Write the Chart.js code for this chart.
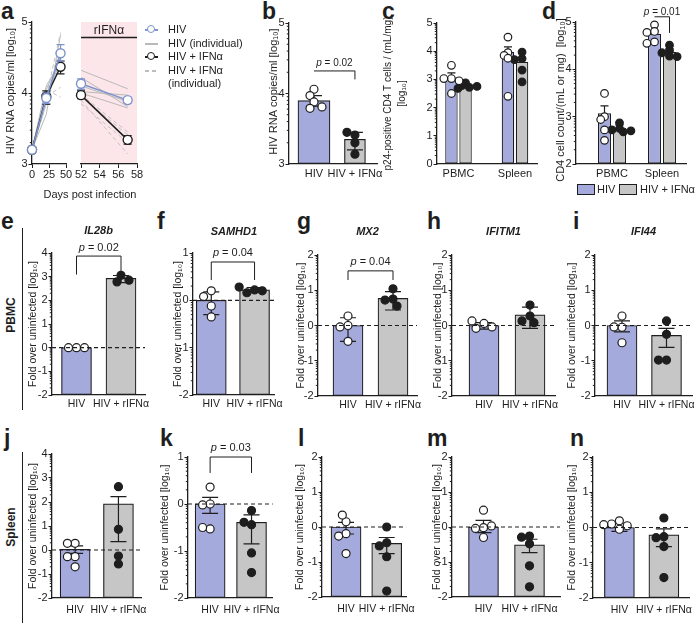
<!DOCTYPE html>
<html>
<head>
<meta charset="utf-8">
<title>rIFNα in HIV-infected mice</title>
<script src="https://cdn.jsdelivr.net/npm/chart.js@4.4.1/dist/chart.umd.min.js"></script>
<style>
  html, body { margin: 0; padding: 0; background: #fff; }
  #fig { position: relative; width: 696px; height: 626px; overflow: hidden;
         font-family: 'Liberation Sans', Arial, sans-serif; color: #1e1e1e; }
  #fig canvas { position: absolute; }
  .tag { position: absolute; font-size: 23px; font-weight: bold; line-height: 23px; }
  .row { position: absolute; font-size: 12px; font-weight: bold; white-space: nowrap;
         transform: translate(-50%, -50%) rotate(-90deg); }
  .rule { position: absolute; left: 22px; width: 1.3px; background: #1e1e1e; }
  .txt { position: absolute; font-size: 11px; line-height: 13px; white-space: nowrap; color: #1e1e1e;
         -webkit-font-smoothing: antialiased; will-change: transform; }
  .sym { position: absolute; left: 145px; width: 13px; height: 13px; }
  .sym .ln { position: absolute; left: 0; right: 0; top: 6px; height: 1.5px; }
  .sym .dot { position: absolute; left: 2px; top: 2px; width: 6.4px; height: 6.4px;
              border: 1.3px solid; border-radius: 50%; background: #fff; }
  .box { position: absolute; top: 184px; width: 16px; height: 9px; border: 1.2px solid #1e1e1e; }
</style>
</head>
<body>
<div id="fig">
  <div class="tag" style="left:1px;top:0px">a</div>
  <div class="tag" style="left:262px;top:0px">b</div>
  <div class="tag" style="left:382px;top:0px">c</div>
  <div class="tag" style="left:542px;top:0px">d</div>
  <div class="tag" style="left:1px;top:210px">e</div>
  <div class="tag" style="left:157px;top:210px">f</div>
  <div class="tag" style="left:297px;top:210px">g</div>
  <div class="tag" style="left:427px;top:210px">h</div>
  <div class="tag" style="left:573px;top:210px">i</div>
  <div class="tag" style="left:4px;top:427px">j</div>
  <div class="tag" style="left:160px;top:427px">k</div>
  <div class="tag" style="left:298px;top:427px">l</div>
  <div class="tag" style="left:427px;top:427px">m</div>
  <div class="tag" style="left:570px;top:427px">n</div>

  <div class="row" style="left:11px;top:315px">PBMC</div>
  <div class="row" style="left:11px;top:527px">Spleen</div>
  <div class="rule" style="top:228px;height:182px"></div>
  <div class="rule" style="top:452px;height:171px"></div>

  <!-- legend of panel a -->
  <div class="sym" style="top:23px"><i class="ln" style="background:#7d93cc"></i><i class="dot" style="border-color:#7d93cc"></i></div>
  <div class="txt" style="left:168px;top:23px">HIV</div>
  <div class="sym" style="top:37px"><i class="ln" style="background:#b9b9b9"></i></div>
  <div class="txt" style="left:168px;top:37px">HIV (individual)</div>
  <div class="sym" style="top:50px"><i class="ln" style="background:#1e1e1e"></i><i class="dot" style="border-color:#1e1e1e"></i></div>
  <div class="txt" style="left:168px;top:50px">HIV + IFNα</div>
  <div class="sym" style="top:64px"><i class="ln" style="background:repeating-linear-gradient(90deg,#bdbdbd 0 4px,transparent 4px 7px)"></i></div>
  <div class="txt" style="left:168px;top:64px">HIV + IFNα</div>
  <div class="txt" style="left:168px;top:77px">(individual)</div>
  <div class="txt" style="left:90px;top:188px;transform:translateX(-50%)">Days post infection</div>

  <!-- legend of panel d -->
  <div class="box" style="left:577px;background:#a4aadc"></div>
  <div class="txt" style="left:597px;top:183px">HIV</div>
  <div class="box" style="left:619px;background:#c6c6c6"></div>
  <div class="txt" style="left:640px;top:183px">HIV + IFNα</div>
</div>

<script>
// ---- a: plasma viral load (log10 copies/ml) per day post infection
const days = [0, 21, 42, 52, 57];
const hivMean = [3.2, 3.93, 4.56, 4.13, 3.9];
const hivSem = [[3.2, 3.2], [3.85, 4.0], [4.45, 4.68], [4.05, 4.2], [3.86, 3.94]];
const ifnMean = [3.2, 3.95, 4.37, 3.97, 3.34];
const ifnSem = [[3.2, 3.2], [3.84, 4.03], [4.27, 4.45], [3.92, 4.03], [3.28, 3.4]];
const hivMice = [
  [3.2, 3.7, 4.82, 4.32, 4.06],
  [3.2, 3.85, 4.6, 4.22, 3.81],
  [3.2, 3.95, 4.45, 4.1, 3.88],
  [3.2, 4.05, 4.5, 4.02, 3.97],
  [3.2, 4.1, 4.45, 4.0, 3.79]
];
const ifnMice = [
  [3.2, 3.95, 4.08, 3.95, 3.41],
  [3.2, 4.05, 3.94, 3.9, 3.14],
  [3.2, 3.85, 4.6, 3.98, 3.45],
  [3.2, 3.95, 4.85, 3.85, 3.3]
];

// ---- b: viral load at end of treatment
const bLabels = ['HIV', 'HIV + IFNα'];
const bMean = [3.9, 3.35];
const bSd = [[3.82, 3.97], [3.2, 3.45]];
const bHivPts = [4.06, 3.97, 3.88, 3.79, 3.81];
const bIfnPts = [3.41, 3.45, 3.30, 3.14];

// ---- c, d: tissues
const tissues = ['PBMC', 'Spleen'];
const p24Hiv = [3.07, 3.97];
const p24HivTop = [3.23, 4.15];
const p24Ifn = [2.72, 3.62];
const p24IfnTop = [2.8, 3.73];
const p24HivPts = [[3.5, 3.03, 3.03, 2.95, 2.5], [4.5, 3.95, 3.85, 3.75, 2.4]];
const p24IfnPts = [[2.88, 2.78, 2.72, 2.68, 2.75], [3.97, 3.74, 3.7, 3.33, 2.91]];
const cd4Hiv = [3.07, 4.75];
const cd4HivTop = [3.23, 4.82];
const cd4Ifn = [2.75, 4.37];
const cd4IfnTop = [2.82, 4.44];
const cd4HivPts = [[3.49, 3.0, 2.94, 2.72, 2.5], [4.94, 4.8, 4.78, 4.58, 4.55]];
const cd4IfnPts = [[2.87, 2.75, 2.72, 2.68, 2.7], [4.51, 4.4, 4.35, 4.28, 4.27]];

// ---- e-n: ISG expression, fold over uninfected (log10)
const geneGroups = ['HIV', 'HIV + rIFNα'];
// PBMC
const il28bBar = [0, 2.93];
const il28bErr = [[0, 0], [2.75, 3.05]];
const il28bHiv = [0, 0, 0];
const il28bIfn = [3.06, 2.78, 2.85];
const samhd1Bar = [0, 0.22];
const samhd1Err = [[-0.3, 0.18], [0.17, 0.27]];
const samhd1Hiv = [0.2, 0.08, -0.12, -0.35];
const samhd1Ifn = [0.22, 0.16, 0.2, 0.28];
const mx2Bar = [0, 0.77];
const mx2Err = [[-0.45, 0.22], [0.44, 0.96]];
const mx2Hiv = [0.27, 0.0, -0.04, -0.45];
const mx2Ifn = [1.04, 0.75, 0.72, 0.55];
const ifitm1Bar = [0, 0.3];
const ifitm1Err = [[-0.1, 0.08], [-0.08, 0.52]];
const ifitm1Hiv = [0.06, -0.08, -0.04, 0.13];
const ifitm1Ifn = [0.58, 0.27, 0.13, 0.08];
const ifi44Bar = [0, -0.28];
const ifi44Err = [[-0.18, 0.13], [-0.62, -0.08]];
const ifi44Hiv = [0.27, -0.05, -0.04, -0.49];
const ifi44Ifn = [0.13, -0.25, -0.98, -0.98];
// Spleen
const il28bSpBar = [0.03, 1.92];
const il28bSpErr = [[-0.14, 0.17], [0.35, 2.22]];
const il28bSpHiv = [0.28, 0.28, -0.28, -0.28, -0.7];
const il28bSpIfn = [2.64, 0.86, -0.25, -0.58];
const samhd1SpBar = [0, -0.39];
const samhd1SpErr = [[-0.2, 0.14], [-0.85, -0.23]];
const samhd1SpHiv = [0.36, 0.0, -0.02, -0.53, -0.5];
const samhd1SpIfn = [-0.14, -0.44, -0.39, -1.04, -1.46];
const mx2SpBar = [0, -0.47];
const mx2SpErr = [[-0.2, 0.13], [-0.76, -0.3]];
const mx2SpHiv = [0.15, 0.34, -0.19, -0.26, -0.76];
const mx2SpIfn = [0.0, -0.45, -0.54, -0.85, -1.83];
const ifitm1SpBar = [0, -0.51];
const ifitm1SpErr = [[-0.16, 0.19], [-0.73, -0.35]];
const ifitm1SpHiv = [0.48, -0.02, -0.04, 0.03, -0.3];
const ifitm1SpIfn = [-0.26, -0.29, -0.48, -1.11, -1.71];
const ifi44SpBar = [0, -0.21];
const ifi44SpErr = [[-0.11, 0.12], [-0.54, -0.04]];
const ifi44SpHiv = [0.19, 0.1, 0.05, -0.05, 0.08];
const ifi44SpIfn = [0.27, -0.26, -0.29, -0.54, -1.42];

const FONT = "'Liberation Sans', Arial, sans-serif";
const INK = '#1e1e1e';
const BLUE = '#a4aadc';
const GREY = '#c6c6c6';
const LINE_BLUE = '#7d93cc';
const PINK = '#fce6ea';
const LOG10 = 'log₁₀';
const FOLD = 'Fold over uninfected [' + LOG10 + ']';

Chart.defaults.font.family = FONT;
Chart.defaults.font.size = 11;
Chart.defaults.color = INK;
Chart.defaults.animation = false;
Chart.defaults.events = [];
Chart.defaults.plugins.legend.display = false;
Chart.defaults.plugins.tooltip.enabled = false;

const fig = document.getElementById('fig');

function drawErr(chart, meta, ds) {
  const ctx = chart.ctx, ys = chart.scales.y;
  ctx.save();
  ctx.strokeStyle = ds.errColor || INK;
  ctx.lineWidth = 1.2;
  meta.data.forEach((el, i) => {
    const lo = ds.errLo[i], hi = ds.errHi[i];
    if (lo === hi) return;
    const x = el.x, w = ds.cap || 6;
    const yl = ys.getPixelForValue(lo), yh = ys.getPixelForValue(hi);
    ctx.beginPath();
    ctx.moveTo(x, yl); ctx.lineTo(x, yh);
    ctx.moveTo(x - w, yh); ctx.lineTo(x + w, yh);
    if (ds.lowCap !== false) { ctx.moveTo(x - w, yl); ctx.lineTo(x + w, yl); }
    ctx.stroke();
  });
  ctx.restore();
}

// error bars, minor log ticks, dashed baseline, p-value brackets, gene names, y titles
const extras = {
  id: 'extras',
  beforeDraw(chart, args, o) {
    if (!o.shade) return;
    const a = chart.chartArea, ctx = chart.ctx;
    ctx.save();
    ctx.fillStyle = o.shade;
    ctx.fillRect(a.left, a.top, a.right - a.left, a.bottom - a.top);
    ctx.restore();
  },
  beforeDatasetDraw(chart, args) {
    const ds = chart.data.datasets[args.index];
    if (ds.errHi && ds.errBehind) drawErr(chart, args.meta, ds);
  },
  afterDatasetDraw(chart, args) {
    const ds = chart.data.datasets[args.index];
    if (ds.errHi && !ds.errBehind) drawErr(chart, args.meta, ds);
  },
  afterDatasetsDraw(chart, args, o) {
    const ctx = chart.ctx, a = chart.chartArea, ys = chart.scales.y;
    ctx.save();
    ctx.strokeStyle = INK;
    ctx.fillStyle = INK;
    ctx.lineWidth = 1;
    if (o.zero) {
      const y0 = ys.getPixelForValue(0);
      ctx.setLineDash([4, 3]);
      ctx.lineWidth = 1.1;
      ctx.beginPath(); ctx.moveTo(a.left, y0); ctx.lineTo(a.right, y0); ctx.stroke();
      ctx.setLineDash([]);
      ctx.lineWidth = 1;
    }
    if (o.minor) {
      for (let n = Math.floor(ys.min); n < ys.max; n++) {
        for (let k = 2; k <= 9; k++) {
          const py = ys.getPixelForValue(n + Math.log10(k));
          ctx.beginPath(); ctx.moveTo(a.left - 2.2, py); ctx.lineTo(a.left, py); ctx.stroke();
        }
      }
    }
    if (o.band) {
      const yb = ys.getPixelForValue(o.band.y);
      ctx.lineWidth = 1.5;
      ctx.beginPath(); ctx.moveTo(a.left, yb); ctx.lineTo(a.right, yb); ctx.stroke();
      ctx.font = '12px ' + FONT;
      ctx.textAlign = 'center';
      ctx.textBaseline = 'middle';
      ctx.fillText(o.band.text, (a.left + a.right) / 2, yb - o.band.gap);
      ctx.lineWidth = 1;
    }
    if (o.bracket) {
      const b = o.bracket;
      const from = b.from || [0, 0], to = b.to || [0, 1];
      const x0 = chart.getDatasetMeta(from[0]).data[from[1]].x;
      const x1 = chart.getDatasetMeta(to[0]).data[to[1]].x;
      const yy = ys.getPixelForValue(b.y);
      ctx.beginPath();
      if (b.legs[0] !== null) { ctx.moveTo(x0, ys.getPixelForValue(b.legs[0])); ctx.lineTo(x0, yy); }
      else ctx.moveTo(x0, yy);
      ctx.lineTo(x1, yy);
      if (b.legs[1] !== null) ctx.lineTo(x1, ys.getPixelForValue(b.legs[1]));
      ctx.stroke();
      const size = b.size || 11;
      ctx.font = 'italic ' + size + 'px ' + FONT;
      const wp = ctx.measureText('p').width;
      const rest = ' = ' + b.p;
      ctx.font = size + 'px ' + FONT;
      const wr = ctx.measureText(rest).width;
      const tx = (x0 + x1) / 2 - (wp + wr) / 2, ty = yy - b.gap;
      ctx.textAlign = 'left';
      ctx.textBaseline = 'middle';
      ctx.font = 'italic ' + size + 'px ' + FONT;
      ctx.fillText('p', tx, ty);
      ctx.font = size + 'px ' + FONT;
      ctx.fillText(rest, tx + wp, ty);
    }
    if (o.title) {
      ctx.font = 'italic bold 11px ' + FONT;
      ctx.textAlign = 'center';
      ctx.textBaseline = 'middle';
      ctx.fillText(o.title, (a.left + a.right) / 2, a.top - o.titleGap);
    }
    ctx.restore();
  },
  afterDraw(chart, args, o) {
    if (!o.ytitle) return;
    const t = o.ytitle, a = chart.chartArea, ctx = chart.ctx;
    const lines = Array.isArray(t.text) ? t.text : [t.text];
    ctx.save();
    ctx.font = (t.size || 11) + 'px ' + FONT;
    ctx.fillStyle = INK;
    ctx.textAlign = 'center';
    ctx.textBaseline = 'middle';
    ctx.translate(a.left - t.dx, (a.top + a.bottom) / 2 + (t.dy || 0));
    ctx.rotate(-Math.PI / 2);
    lines.forEach((s, i) => ctx.fillText(s, 0, i * (t.lh || 14)));
    ctx.restore();
  }
};

// place a canvas so that the plot area lands on l,t,r,b of the page
function makeChart(g, config) {
  const yW = g.yW !== undefined ? g.yW : g.l - g.tx + 7;
  const xH = g.xH || 22;
  const pl = g.pl || 2, pt = g.pt || 10, pr = g.pr || 10, pb = g.pb || 2;
  const left = Math.floor(g.l - yW - pl), top = Math.floor(g.t - pt);
  const width = Math.ceil(g.r + pr - left), height = Math.ceil(g.b + xH + pb - top);
  const canvas = document.createElement('canvas');
  canvas.width = width;
  canvas.height = height;
  canvas.style.left = left + 'px';
  canvas.style.top = top + 'px';
  fig.appendChild(canvas);
  const o = config.options;
  o.responsive = false;
  o.layout = { padding: { left: g.l - yW - left, top: g.t - top, right: left + width - g.r, bottom: top + height - g.b - xH } };
  o.scales.x.afterFit = s => { s.height = xH; };
  o.scales.y.afterFit = s => { s.width = yW; };
  const ex = o.plugins.extras;
  if (ex.ytitle) ex.ytitle.dx = g.l - g.tx;
  config.plugins = [extras];
  return new Chart(canvas, config);
}

function swarm(vals, unit, r, minDist) {
  const placed = [];
  return vals.map(v => {
    const y = v * unit;
    for (const k of [0, -1, 1, -2, 2, -3, 3, -4, 4]) {
      const x = k * r;
      if (placed.every(q => Math.hypot(q.x - x, q.y - y) >= minDist)) {
        placed.push({ x, y });
        return x;
      }
    }
    placed.push({ x: 0, y });
    return 0;
  });
}

function dots(vals, x, g, r, filled, minDist) {
  const slot = g.c1 - g.c0;
  const unit = (g.b - g.t) / (g.max - g.min);
  const offs = swarm(vals, unit, r, minDist || 2 * r - 0.5);
  return {
    type: 'scatter',
    data: vals.map((v, i) => ({ x: x + offs[i] / slot, y: v })),
    pointRadius: r, pointBorderWidth: 1.2, pointBorderColor: INK,
    pointBackgroundColor: filled ? INK : '#fff', order: 0, clip: false
  };
}

function xAxis(g, labels, pad, size) {
  const slot = g.c1 - g.c0;
  return {
    type: 'linear', offset: false,
    min: -(g.c0 - g.l) / slot, max: 1 + (g.r - g.c1) / slot,
    afterBuildTicks: s => { s.ticks = labels.map((_, i) => ({ value: i })); },
    ticks: { callback: (v, i) => labels[i], autoSkip: false, maxRotation: 0, padding: pad, font: { size: size || 11 } },
    grid: { display: false, drawTicks: false },
    border: { color: INK, width: 1.3 }
  };
}

function yAxis(min, max) {
  return {
    type: 'linear', min, max, beginAtZero: false,
    ticks: { stepSize: 1, padding: 1 },
    grid: { drawOnChartArea: false, tickLength: 3.5, color: INK, tickColor: INK },
    border: { color: INK, width: 1.3 }
  };
}

const barStyle = { borderColor: INK, borderWidth: 1.2, borderSkipped: false };

// ---------- a ----------
function track(vals, from, to) {
  return days.slice(from, to).map((d, i) => ({ x: d, y: vals[from + i] }));
}
function aSets(from, to) {
  const sets = [];
  hivMice.forEach(m => sets.push({ data: track(m, from, to), borderColor: '#b9b9b9', borderWidth: 1, pointRadius: 0, order: 4, clip: false }));
  ifnMice.forEach(m => sets.push({ data: track(m, from, to), borderColor: '#c2c2c2', borderWidth: 1, borderDash: [4, 3], pointRadius: 0, order: 3, clip: false }));
  sets.push({
    data: track(ifnMean, from, to), borderColor: INK, borderWidth: 1.5,
    pointRadius: 4.5, pointBorderWidth: 1.4, pointBackgroundColor: '#fff', pointBorderColor: INK,
    errLo: ifnSem.slice(from, to).map(e => e[0]), errHi: ifnSem.slice(from, to).map(e => e[1]),
    errBehind: true, errColor: INK, cap: 4, order: 1, clip: false
  });
  sets.push({
    data: track(hivMean, from, to), borderColor: LINE_BLUE, borderWidth: 1.5,
    pointRadius: 4.5, pointBorderWidth: 1.4, pointBackgroundColor: '#fff', pointBorderColor: LINE_BLUE,
    errLo: hivSem.slice(from, to).map(e => e[0]), errHi: hivSem.slice(from, to).map(e => e[1]),
    errBehind: true, errColor: LINE_BLUE, cap: 4, order: 0, clip: false
  });
  return sets;
}
function dayAxis(min, max, step) {
  return {
    type: 'linear', min, max,
    ticks: { stepSize: step, padding: 0, autoSkip: false, maxRotation: 0 },
    grid: { drawOnChartArea: false, tickLength: 4, color: INK, tickColor: INK },
    border: { color: INK, width: 1.3 }
  };
}

makeChart({ l: 32, r: 66, t: 22, b: 164, tx: 11, pt: 8, pr: 8 }, {
  type: 'line',
  data: { datasets: aSets(0, 3) },
  options: {
    scales: { x: dayAxis(0, 50, 25), y: yAxis(3, 5) },
    plugins: { extras: { minor: true, ytitle: { text: 'HIV RNA copies/ml [' + LOG10 + ']', dy: -2 } } }
  }
});

makeChart({ l: 81, r: 137, t: 22, b: 164, yW: 0, pl: 12, pt: 8, pr: 8 }, {
  type: 'line',
  data: { datasets: aSets(3, 5) },
  options: {
    scales: { x: dayAxis(52, 58, 2), y: { type: 'linear', min: 3, max: 5, display: false } },
    plugins: { extras: { shade: PINK, band: { y: 4.78, text: 'rIFNα', gap: 7 } } }
  }
});

// ---------- b ----------
const gb = { l: 289, r: 378, t: 23, b: 164, tx: 274, c0: 314, c1: 355, min: 3, max: 5 };
makeChart(gb, {
  type: 'bar',
  data: { datasets: [
    Object.assign({ data: [{ x: 0, y: bMean[0] }], backgroundColor: BLUE, barThickness: 32, grouped: false, base: 3,
      errLo: [bSd[0][0]], errHi: [bSd[0][1]], cap: 8, order: 1 }, barStyle),
    Object.assign({ data: [{ x: 1, y: bMean[1] }], backgroundColor: GREY, barThickness: 21, grouped: false, base: 3,
      errLo: [bSd[1][0]], errHi: [bSd[1][1]], cap: 8, order: 1 }, barStyle),
    dots(bHivPts, 0, gb, 4, false),
    dots(bIfnPts, 1, gb, 4, true)
  ] },
  options: {
    scales: { x: xAxis(gb, bLabels, 3), y: yAxis(3, 5) },
    plugins: { extras: {
      minor: true,
      ytitle: { text: 'HIV RNA copies/ml [' + LOG10 + ']', dy: -2 },
      bracket: { from: [0, 0], to: [1, 0], y: 4.32, legs: [null, 4.2], p: '0.02', size: 10, gap: 8 }
    } }
  }
});

// ---------- c, d ----------
function tissuePanel(g, hiv, hivTop, ifn, ifnTop, hivPts, ifnPts, catPct, barPct, ytitle, plug) {
  const sets = [
    Object.assign({ data: hiv.map((v, i) => ({ x: i, y: v })), backgroundColor: BLUE, base: g.min,
      categoryPercentage: catPct, barPercentage: barPct,
      errLo: hiv, errHi: hivTop, lowCap: false, cap: 4, order: 1 }, barStyle),
    Object.assign({ data: ifn.map((v, i) => ({ x: i, y: v })), backgroundColor: GREY, base: g.min,
      categoryPercentage: catPct, barPercentage: barPct,
      errLo: ifn, errHi: ifnTop, lowCap: false, cap: 4, order: 1 }, barStyle)
  ];
  tissues.forEach((t, i) => {
    sets.push(dots(hivPts[i], i - catPct / 4, g, 3.8, false, 4.5));
    sets.push(dots(ifnPts[i], i + catPct / 4, g, 3.8, true, 4.5));
  });
  return makeChart(g, {
    type: 'bar',
    data: { datasets: sets },
    options: {
      scales: { x: xAxis(g, tissues, 3), y: yAxis(g.min, g.max) },
      plugins: { extras: Object.assign({ minor: true, ytitle: ytitle }, plug) }
    }
  });
}

tissuePanel({ l: 437, r: 537, t: 23, b: 164, tx: 388, c0: 458.5, c1: 515, min: 0, max: 5, pt: 23 },
  p24Hiv, p24HivTop, p24Ifn, p24IfnTop, p24HivPts, p24IfnPts, 0.5, 0.88,
  { text: ['p24-positive CD4 T cells / (mL/mg)', '[' + LOG10 + ']'], size: 10, dy: 0, lh: 14 }, {});

tissuePanel({ l: 576, r: 686, t: 22, b: 164, tx: 561, c0: 612, c1: 662, min: 2, max: 5, pt: 20 },
  cd4Hiv, cd4HivTop, cd4Ifn, cd4IfnTop, cd4HivPts, cd4IfnPts, 0.6, 0.87,
  { text: 'CD4 cell count/(mL or mg)  [' + LOG10 + ']', dy: 7 },
  { bracket: { from: [0, 1], to: [1, 1], y: 5.11, legs: [null, 4.77], p: '0.01', size: 10, gap: 5 } });

// ---------- e-n ----------
function genePanel(g, title, bar, err, hiv, ifn, more) {
  return makeChart(g, {
    type: 'bar',
    data: { datasets: [
      Object.assign({ data: bar.map((v, i) => ({ x: i, y: v })), backgroundColor: [BLUE, GREY],
        barThickness: 30, base: g.min,
        errLo: err.map(e => e[0]), errHi: err.map(e => e[1]), cap: 8, order: 1 }, barStyle),
      dots(hiv, 0, g, 4, false),
      dots(ifn, 1, g, 4, true)
    ] },
    options: {
      scales: { x: xAxis(g, geneGroups, g.lp || 3, 10.5), y: yAxis(g.min, g.max) },
      plugins: { extras: Object.assign({
        zero: true, minor: true, title: title, titleGap: g.t - (g.ty || g.t),
        ytitle: { text: FOLD, size: 10.5 }
      }, more) }
    }
  });
}

genePanel({ l: 52, r: 145, t: 253, b: 395, tx: 33, ty: 231, c0: 76.5, c1: 121, min: -2, max: 4, pt: 30 },
  'IL28b', il28bBar, il28bErr, il28bHiv, il28bIfn,
  { bracket: { y: 3.87, legs: [3.09, 3.09], p: '0.02', gap: 8 } });
genePanel({ l: 193, r: 278, t: 253, b: 395, tx: 178, ty: 232, c0: 212, c1: 257, min: -2, max: 1, pt: 30 },
  'SAMHD1', samhd1Bar, samhd1Err, samhd1Hiv, samhd1Ifn,
  { bracket: { y: 0.81, legs: [0.43, 0.43], p: '0.04', gap: 9 } });
genePanel({ l: 318, r: 417, t: 255, b: 396, tx: 301, ty: 232, c0: 348, c1: 393, min: -2, max: 2, pt: 30 },
  'MX2', mx2Bar, mx2Err, mx2Hiv, mx2Ifn,
  { bracket: { y: 1.55, legs: [1.29, 1.29], p: '0.04', gap: 9 } });
genePanel({ l: 452, r: 555, t: 255, b: 396, tx: 438, ty: 232, c0: 484, c1: 530, min: -2, max: 2, pt: 30 },
  'IFITM1', ifitm1Bar, ifitm1Err, ifitm1Hiv, ifitm1Ifn, {});
genePanel({ l: 595, r: 692, t: 255, b: 396, tx: 572, ty: 232, c0: 622, c1: 666.5, min: -2, max: 2, pt: 30, pr: 8 },
  'IFI44', ifi44Bar, ifi44Err, ifi44Hiv, ifi44Ifn, {});

genePanel({ l: 52, r: 145, t: 454, b: 598, tx: 33, c0: 76, c1: 121, min: -2, max: 4, lp: 6 },
  null, il28bSpBar, il28bSpErr, il28bSpHiv, il28bSpIfn, {});
genePanel({ l: 188, r: 278, t: 457, b: 598, tx: 165, c0: 211.5, c1: 255.5, min: -2, max: 1, pt: 20, lp: 6 },
  null, samhd1SpBar, samhd1SpErr, samhd1SpHiv, samhd1SpIfn,
  { bracket: { y: 1.0, legs: [0.66, 0.66], p: '0.03', gap: 9 } });
genePanel({ l: 322, r: 413, t: 457, b: 597, tx: 300, c0: 348, c1: 392, min: -2, max: 2, lp: 6 },
  null, mx2SpBar, mx2SpErr, mx2SpHiv, mx2SpIfn, {});
genePanel({ l: 452, r: 560, t: 457, b: 597, tx: 437, c0: 483.5, c1: 529.5, min: -2, max: 2, lp: 6 },
  null, ifitm1SpBar, ifitm1SpErr, ifitm1SpHiv, ifitm1SpIfn, {});
genePanel({ l: 593, r: 692, t: 457, b: 598, tx: 572, c0: 620, c1: 665.5, min: -2, max: 2, lp: 6, pr: 8 },
  null, ifi44SpBar, ifi44SpErr, ifi44SpHiv, ifi44SpIfn, {});
</script>
</body>
</html>
